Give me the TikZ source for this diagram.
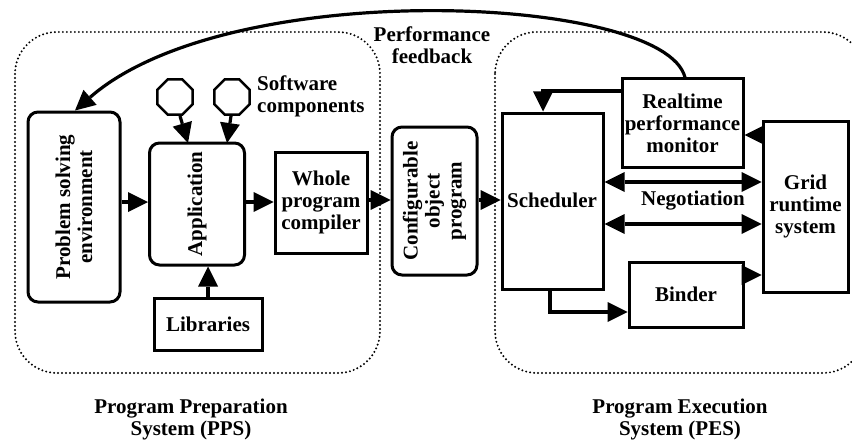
\documentclass[tikz,border=0pt]{standalone}
\usepackage{fontspec}
\setmainfont{Liberation Serif}
\usetikzlibrary{arrows.meta,shapes.geometric,calc}
\begin{document}
\begin{tikzpicture}[x=1pt,y=-1pt,
  every node/.style={font=\fontsize{21}{22}\selectfont\bfseries, align=center, inner sep=0pt},
  sqbox/.style={draw, line width=3pt},
  rbox/.style={draw, line width=3pt, rounded corners=10pt},
  region/.style={line width=2.2pt, dash pattern=on 0pt off 4pt, line cap=round, rounded corners=42pt},
  tip/.tip={Triangle[length=20pt,width=20pt,line width=0pt]},
  arr/.style={line width=3.2pt, -tip},
  darr/.style={line width=3.2pt, tip-tip},
  oct/.style={draw, line width=2.4pt, regular polygon, regular polygon sides=8, minimum size=38pt}
]
\useasboundingbox (0,0) rectangle (852,444);
% regions
\draw[region] (15,32) rectangle (380,373);
\draw[region] (495,32) rectangle (865,373);
% PPS nodes
\node[rbox, minimum width=92pt, minimum height=190pt] (pse) at (74,207) {};
\node[rotate=90] at (pse.center) {Problem solving\\environment};
\node[rbox, minimum width=95pt, minimum height=122pt] (app) at (197,204) {};
\node[rotate=90] at (app.center) {Application};
\node[sqbox, minimum width=92pt, minimum height=101pt] (wpc) at (321,202.5) {Whole\\program\\compiler};
\node[sqbox, minimum width=108pt, minimum height=52pt] (lib) at (208,324) {Libraries};
\node[oct] (o1) at (175,97) {};
\node[oct] (o2) at (232,97) {};
\node[anchor=west, align=left] (sw) at (257,96) {Software\\components};
% middle
\node[rbox, minimum width=85pt, minimum height=148pt] (cfg) at (434.5,201) {};
\node[rotate=90] at (cfg.center) {Configurable\\object\\program};
% PES nodes
\node[sqbox, minimum width=101pt, minimum height=176pt] (sch) at (552.5,201) {};
\node at (552,200) {Scheduler};
\node[sqbox, minimum width=121pt, minimum height=88pt] (mon) at (682.5,123) {Realtime\\performance\\monitor};
\node[sqbox, minimum width=85pt, minimum height=171pt] (grid) at (805.5,206.5) {Grid\\runtime\\system};
\node[sqbox, minimum width=114pt, minimum height=65pt] (bin) at (686,294.5) {Binder};
\node (neg) at (693,201) {Negotiation};
% bottom labels
\node (pps) at (191,419) {Program Preparation\\System (PPS)};
\node (pes) at (680,419) {Program Execution\\System (PES)};
\node (pf) at (432,45) {Performance\\feedback};
% coordinates
\coordinate (yA) at (0,202);
\coordinate (yB) at (0,200);
\coordinate (yM) at (0,91);
\coordinate (yG) at (0,135);
\coordinate (yN1) at (0,182);
\coordinate (yN2) at (0,224);
\coordinate (yS) at (0,312);
\coordinate (yBG) at (0,275);
\coordinate (xM) at (543,0);
\coordinate (xS) at (550,0);
\coordinate (o1s) at (180,116);
\coordinate (o1t) at (188,143);
\coordinate (o2s) at (231,116);
\coordinate (o2t) at (227,143);
% arrows
\draw[arr] (pse.east |- yA) -- (app.west |- yA);
\draw[arr] (app.east |- yA) -- (wpc.west |- yA);
\draw[arr] (wpc.east |- yB) -- (cfg.west |- yB);
\draw[arr] (cfg.east |- yB) -- (sch.west |- yB);
\draw[arr] (lib.north) -- (lib.north |- app.south);
\draw[arr] (o1s) -- (o1t);
\draw[arr] (o2s) -- (o2t);
\draw[arr] (mon.west |- yM) -| (xM |- sch.north);
\draw[arr] (grid.west |- yG) -- (mon.east |- yG);
\draw[darr] (sch.east |- yN1) -- (grid.west |- yN1);
\draw[darr] (sch.east |- yN2) -- (grid.west |- yN2);
\draw[arr] (xS |- sch.south) |- (bin.west |- yS);
\draw[arr] (bin.east |- yBG) -- (grid.west |- yBG);
\draw[arr] (mon.north -| 685,0) .. controls (665,-5) and (230,-25) .. ($(pse.north)+(1,0)$);
\end{tikzpicture}
\end{document}
